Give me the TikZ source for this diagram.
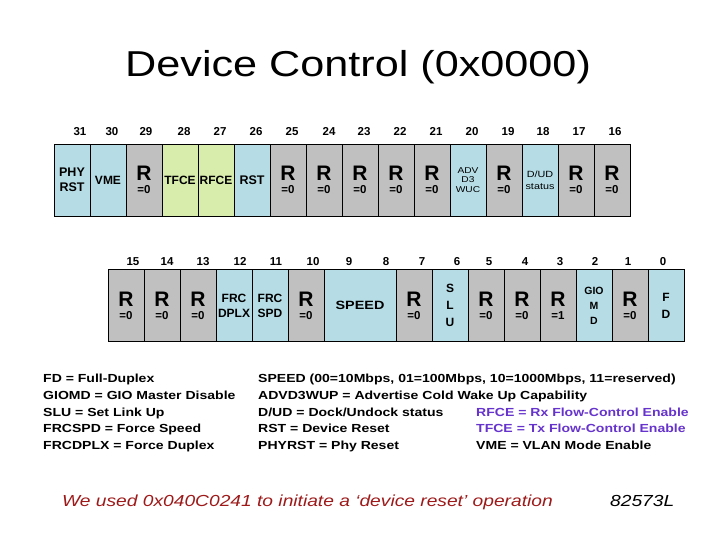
\documentclass[tikz,border=0pt]{standalone}
\usepackage{fontspec}
\setmainfont{Liberation Sans}
\newfontfamily\wfont{Liberation Sans}[FakeStretch=1.2]
\definecolor{cgray}{HTML}{C0C0C0}
\definecolor{cblue}{HTML}{B6DDE6}
\definecolor{cgreen}{HTML}{D8ECAB}
\definecolor{cpurple}{HTML}{6633CC}
\definecolor{cred}{HTML}{9E1A1A}
\newcommand\fs[2]{\fontsize{#1}{#2}\selectfont}
\newcommand\RR[1]{{\fs{21}{21}\bfseries R}\\[1pt]{\fs{11.5}{12}\bfseries =#1}}
\newcommand\Rr[1]{{\fs{21}{21}R}\\[1pt]{\fs{11.5}{12}\bfseries =#1}}
\begin{document}
\begin{tikzpicture}[x=1pt,y=-1pt,
  cell/.style={draw=black,line width=0.8pt,minimum width=36pt,minimum height=72pt,
    inner sep=0pt,align=center,text=black,font=\fs{12}{12}\bfseries},
  gr/.style={cell,fill=cgray},
  bl/.style={cell,fill=cblue},
  gn/.style={cell,fill=cgreen},
  bitn/.style={anchor=base,inner sep=0pt,font=\fs{11.5}{11.5}\bfseries},
  leg/.style={anchor=base west,inner sep=0pt,font=\wfont\fs{11.7}{11.7}\bfseries}]
\useasboundingbox (0,0) rectangle (720,540);

\node[anchor=base west,inner sep=0pt,font=\wfont\fs{36}{36}] (title) at (125,77) {Device Control (0x0000)};

% top row
\node[bl,font=\fs{12.5}{15}\bfseries] (b31) at (72,180) {PHY\\RST};
\node[bl] (b30) at (108,180) {VME};
\node[gr] (b29) at (144,180) {\RR0};
\node[gn] (b28) at (180,180) {TFCE};
\node[gn] (b27) at (216,180) {RFCE};
\node[bl,font=\fs{12.5}{12}\bfseries] (b26) at (252,180) {RST};
\node[gr] (b25) at (288,180) {\RR0};
\node[gr] (b24) at (324,180) {\RR0};
\node[gr] (b23) at (360,180) {\Rr0};
\node[gr] (b22) at (396,180) {\RR0};
\node[gr] (b21) at (432,180) {\RR0};
\node[bl,font=\wfont\fs{8.5}{9.5}] (b20) at (468,180) {ADV\\D3\\WUC};
\node[gr] (b19) at (504,180) {\RR0};
\node[bl,font=\wfont\fs{9}{12}] (b18) at (540,180) {D/UD\\status};
\node[gr] (b17) at (576,180) {\RR0};
\node[gr] (b16) at (612,180) {\RR0};

\node[bitn] (n31) at (80,136) {31};
\node[bitn] (n30) at (112,136) {30};
\node[bitn] (n29) at (146,136) {29};
\node[bitn] (n28) at (184,136) {28};
\node[bitn] (n27) at (220,136) {27};
\node[bitn] (n26) at (256,136) {26};
\node[bitn] (n25) at (292,136) {25};
\node[bitn] (n24) at (329,136) {24};
\node[bitn] (n23) at (364,136) {23};
\node[bitn] (n22) at (400,136) {22};
\node[bitn] (n21) at (436,136) {21};
\node[bitn] (n20) at (472,136) {20};
\node[bitn] (n19) at (508,136) {19};
\node[bitn] (n18) at (543,136) {18};
\node[bitn] (n17) at (579,136) {17};
\node[bitn] (n16) at (615,136) {16};

% bottom row
\node[gr] (b15) at (126,305.5) {\RR0};
\node[gr] (b14) at (162,305.5) {\RR0};
\node[gr] (b13) at (198,305.5) {\RR0};
\node[bl,font=\fs{12}{15}\bfseries] (b12) at (234,305.5) {FRC\\DPLX};
\node[bl,font=\fs{12}{15}\bfseries] (b11) at (270,305.5) {FRC\\SPD};
\node[gr] (b10) at (306,305.5) {\RR0};
\node[bl,minimum width=72pt,font=\wfont\fs{12}{12}\bfseries] (b98) at (360,305.5) {SPEED};
\node[gr] (b7) at (414,305.5) {\RR0};
\node[bl,font=\fs{12}{17}\bfseries] (b6) at (450,305.5) {S\\L\\U};
\node[gr] (b5) at (486,305.5) {\RR0};
\node[gr] (b4) at (522,305.5) {\RR0};
\node[gr] (b3) at (558,305.5) {\RR1};
\node[bl,font=\fs{10.5}{15}\bfseries] (b2) at (594,305.5) {GIO\\M\\D};
\node[gr] (b1) at (630,305.5) {\RR0};
\node[bl,font=\fs{12}{17}\bfseries] (b0) at (666,305.5) {F\\D};

\node[bitn] (n15) at (133,265) {15};
\node[bitn] (n14) at (167,265) {14};
\node[bitn] (n13) at (203,265) {13};
\node[bitn] (n12) at (240,265) {12};
\node[bitn] (n11) at (276,265) {11};
\node[bitn] (n10) at (313,265) {10};
\node[bitn] (n9) at (349,265) {9};
\node[bitn] (n8) at (386,265) {8};
\node[bitn] (n7) at (422,265) {7};
\node[bitn] (n6) at (457,265) {6};
\node[bitn] (n5) at (489,265) {5};
\node[bitn] (n4) at (525,265) {4};
\node[bitn] (n3) at (560,265) {3};
\node[bitn] (n2) at (595,265) {2};
\node[bitn] (n1) at (628,265) {1};
\node[bitn] (n0) at (663,265) {0};

% legend
\node[leg] (l1) at (43,382) {FD = Full-Duplex};
\node[leg] (l2) at (43,399) {GIOMD = GIO Master Disable};
\node[leg] (l3) at (43,416) {SLU = Set Link Up};
\node[leg] (l4) at (43,432) {FRCSPD = Force Speed};
\node[leg] (l5) at (43,449) {FRCDPLX = Force Duplex};

\node[leg] (r1) at (258,382) {SPEED (00=10Mbps, 01=100Mbps, 10=1000Mbps, 11=reserved)};
\node[leg] (r2) at (258,399) {ADVD3WUP = Advertise Cold Wake Up Capability};
\node[leg] (r3) at (258,416) {D/UD = Dock/Undock status};
\node[leg] (r4) at (258,432) {RST = Device Reset};
\node[leg] (r5) at (258,449) {PHYRST = Phy Reset};

\node[leg,text=cpurple] (s3) at (476,416) {RFCE = Rx Flow-Control Enable};
\node[leg,text=cpurple] (s4) at (476,432) {TFCE = Tx Flow-Control Enable};
\node[leg] (s5) at (476,449) {VME = VLAN Mode Enable};

\node[anchor=base west,inner sep=0pt,text=cred,font=\wfont\fs{16}{16}\itshape] (note) at (62,506) {We used 0x040C0241 to initiate a ‘device reset’ operation};
\node[anchor=base west,inner sep=0pt,font=\wfont\fs{16}{16}\itshape] (chip) at (610,506) {82573L};
\end{tikzpicture}
\end{document}
